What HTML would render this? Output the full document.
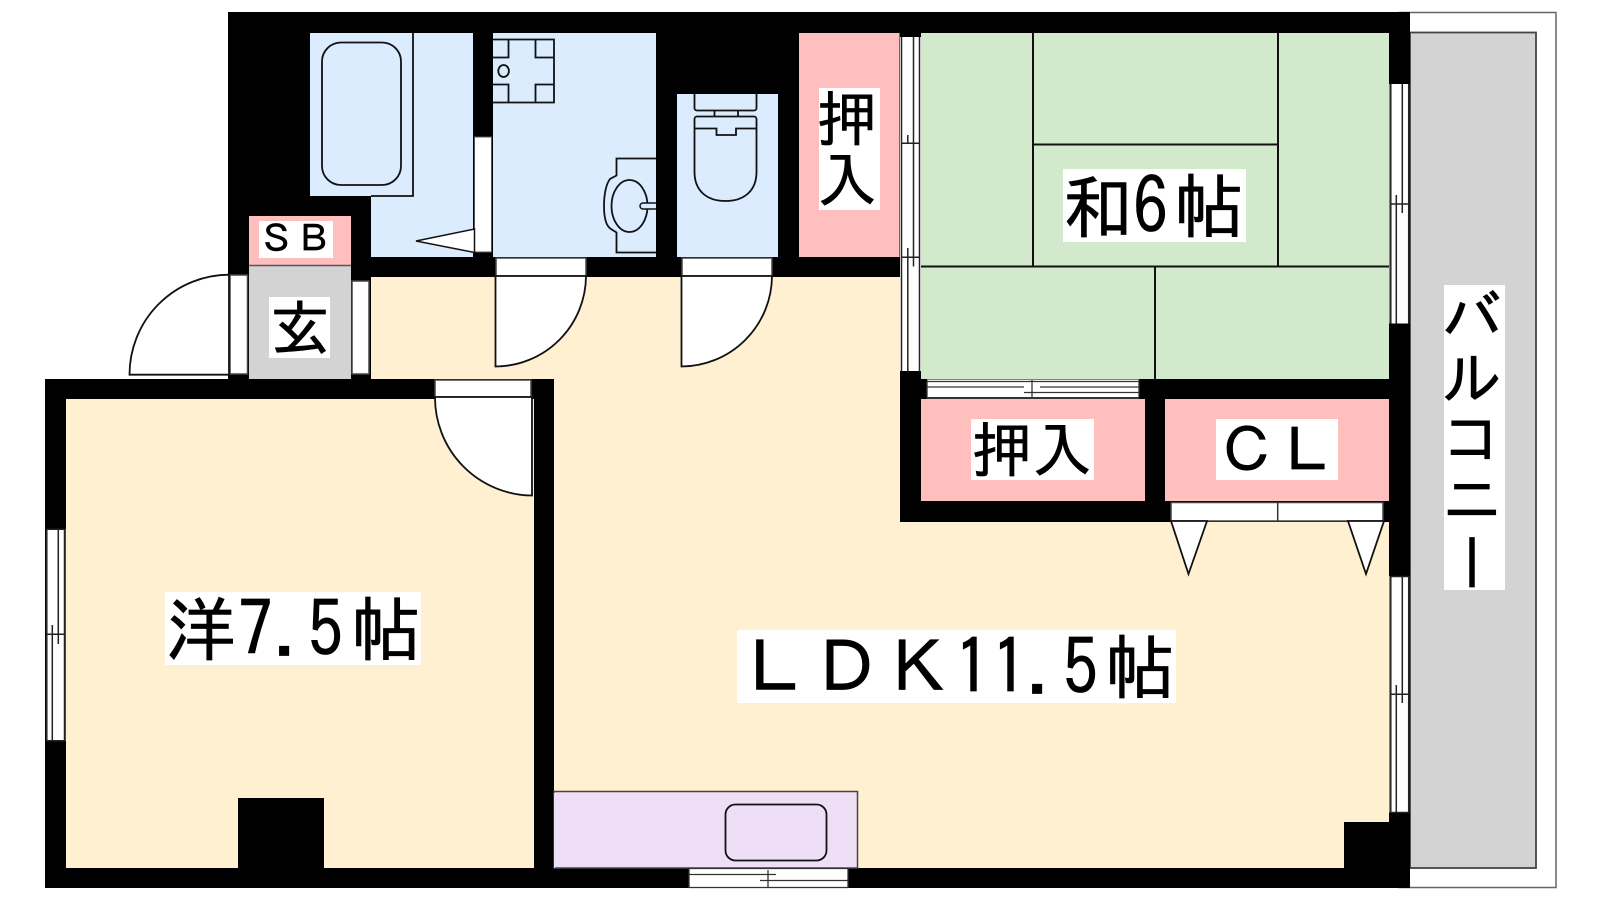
<!DOCTYPE html>
<html><head><meta charset="utf-8"><style>
html,body{margin:0;padding:0;background:#fff}
svg{display:block}
text{font-family:"IPAGothic","Noto Sans CJK JP",sans-serif;fill:#000;stroke:#000;stroke-width:.7}
.l{fill:none;stroke:#111;stroke-width:1.8}
.g{fill:#fff;stroke:#444;stroke-width:1.5}
.t{stroke:#111;stroke-width:2;fill:none}
</style></head><body>
<svg width="1600" height="900" viewBox="0 0 1600 900" xmlns="http://www.w3.org/2000/svg">
<rect width="1600" height="900" fill="#fff"/>
<!-- balcony -->
<rect x="1399" y="12.500" width="157" height="875" fill="#fff" stroke="#666" stroke-width="1.500"/>
<rect x="1410" y="32.500" width="126" height="835.500" fill="#d3d3d3" stroke="#444" stroke-width="1.800"/>
<!-- black walls -->
<rect x="228" y="12" width="1182" height="265" fill="#000"/>
<rect x="228" y="277" width="143" height="102" fill="#000"/>
<rect x="45" y="379" width="509" height="509" fill="#000"/>
<rect x="900" y="277" width="510" height="245" fill="#000"/>
<rect x="1389" y="522" width="21" height="366" fill="#000"/>
<rect x="554" y="868" width="856" height="20" fill="#000"/>
<rect x="1344" y="822" width="66" height="66" fill="#000"/>
<!-- LDK -->
<path d="M371 277H900V522H1389V822H1344V868H554V379H371Z" fill="#fef0d0"/>
<!-- western room -->
<rect x="66" y="399" width="468" height="469" fill="#fef0d0"/>
<rect x="238" y="798" width="86" height="70" fill="#000"/>
<!-- bath -->
<path d="M310 33H473V257H371V196H310Z" fill="#dbecff"/>
<path class="l" d="M413 33V196H371"/>
<rect x="322" y="42.500" width="79" height="142.500" rx="19" class="l"/>
<!-- wash -->
<rect x="493" y="33" width="163" height="224" fill="#dbecff"/>
<path class="l" d="M493 39.500H554V102.500H493M508.500 39.500V57.500H493M535.500 39.500V57.500H554M508.500 102.500V84.500H493M535.500 102.500V84.500H554"/>
<ellipse cx="503.600" cy="71" rx="5.300" ry="6" class="l"/>
<path class="l" d="M656 158.500H616.500V175.500L610 179C606 184 604 195 604 206C604 217 606 226 611 229L616.500 232.500V252.500H656"/>
<ellipse cx="629.500" cy="206" rx="18" ry="26" class="l"/>
<path d="M656 203H643a2.500 2.500 0 0 0 0 6H656" fill="#dbecff" stroke="#111" stroke-width="1.500"/>
<!-- bath sliding door -->
<rect x="474.500" y="137" width="17" height="115" fill="#fff" stroke="#555" stroke-width="1"/>
<path d="M416 241L474.500 229V252.500Z" fill="#fff" stroke="#111" stroke-width="1.500"/>
<!-- toilet -->
<rect x="677" y="94" width="101" height="163" fill="#dbecff"/>
<path class="l" d="M694.500 94V108a2.500 2.500 0 0 0 2.500 2.500H754a2.500 2.500 0 0 0 2.500-2.500V94"/>
<path class="l" d="M714.500 110.500V116.500M738 110.500V116.500"/>
<path class="l" d="M694.500 119a2.500 2.500 0 0 1 2.500-2.500H754a2.500 2.500 0 0 1 2.500 2.500V172C756.500 190 745 201 725.500 201C706 201 694.500 190 694.500 172Z"/>
<path class="l" d="M694.500 128.500H716.500V135H736V128.500H756.500"/>
<!-- closet vertical -->
<rect x="799" y="33" width="100.500" height="224" fill="#ffbfbf"/>
<!-- wa room -->
<rect x="921" y="33" width="468" height="346" fill="#d3e9cc"/>
<path class="t" d="M1033 33V266M1278 33V266M1033 144.500H1278M921 266.500H1389M1155 266.500V379"/>
<!-- wa room left window -->
<rect x="900" y="37" width="21" height="334" fill="#fff"/>
<path d="M901.500 37V371M919.500 37V371M913.500 37V266.500M907.800 135V143M907.800 248V371M901 143.300H920M901 257.300H920" stroke="#222" stroke-width="1.500" fill="none"/>
<!-- wa room right window -->
<rect x="1389.500" y="84" width="20" height="239.500" fill="#fff"/>
<path d="M1390.800 84V323.500M1408.700 84V323.500M1402.300 84V213M1396.300 195V323.500M1390.500 204H1409" stroke="#222" stroke-width="1.500" fill="none"/>
<!-- LDK right window -->
<rect x="1389.500" y="576" width="20" height="236.500" fill="#fff"/>
<path d="M1390.800 576V812.500M1408.700 576V812.500M1402.300 576V703M1396.300 685V812.500M1390.500 694.300H1409M1390 576.500H1409M1390 812.500H1409" stroke="#222" stroke-width="1.500" fill="none"/>
<!-- west window -->
<rect x="46" y="529" width="19.500" height="212" fill="#fff"/>
<path d="M46.800 529V741M64.500 529V741M58.300 529V644M52.300 625V741M46 634.300H65M46 529.300H65M46 740.700H65" stroke="#222" stroke-width="1.500" fill="none"/>
<!-- pink closets -->
<rect x="921" y="399" width="224" height="102" fill="#ffbfbf"/>
<rect x="1165" y="399" width="224" height="102" fill="#ffbfbf"/>
<!-- oshiire slider -->
<rect x="927" y="379.500" width="212" height="19" fill="#fff"/>
<path d="M927 381.500H1139M927 387H1024M1040 387H1139M1024 392.500H1139M927 397.700H1139M1032 380V398M1024 392.500H1040M927 380V398M1139 380V398" stroke="#333" stroke-width="1.300" fill="none"/>
<!-- CL doors -->
<rect x="1171" y="502.500" width="212" height="18.500" class="g"/>
<path d="M1277.700 502V521" stroke="#333" stroke-width="1.500"/>
<path d="M1171 521H1207L1188.500 574Z" fill="#fff" stroke="#111" stroke-width="1.800"/>
<path d="M1348 521H1384L1366 574Z" fill="#fff" stroke="#111" stroke-width="1.800"/>
<!-- SB / genkan -->
<rect x="249" y="216" width="102" height="49" fill="#ffbfbf"/>
<rect x="249" y="265" width="102" height="114" fill="#d3d3d3"/>
<path d="M249 265.500H351" stroke="#555" stroke-width="1.400"/>
<rect x="259" y="221" width="74" height="37" fill="#fff"/>
<rect x="269" y="297" width="61" height="61" fill="#fff"/>
<rect x="230" y="275" width="17.500" height="99" class="g"/>
<rect x="352" y="281" width="17" height="93" class="g"/>
<!-- doors -->
<path d="M229 274.700A100 100 0 0 0 129.500 374.700H229Z" fill="#fff" stroke="#111" stroke-width="1.800"/>
<rect x="496" y="258" width="90" height="18" class="g"/>
<path d="M495.500 276V366.500A91 91 0 0 0 586 276Z" fill="#fff" stroke="#111" stroke-width="1.800"/>
<rect x="682" y="258" width="90" height="18" class="g"/>
<path d="M681.500 276V366.500A91 91 0 0 0 772 276Z" fill="#fff" stroke="#111" stroke-width="1.800"/>
<rect x="435" y="380" width="96" height="17" class="g"/>
<path d="M435 397A98 98 0 0 0 532 495.500V397Z" fill="#fff" stroke="#111" stroke-width="1.800"/>
<!-- kitchen -->
<rect x="554" y="791.500" width="303.500" height="76.500" fill="#eedff6" stroke="#444" stroke-width="1.500"/>
<rect x="554" y="793" width="1" height="75" fill="#eedff6"/>
<rect x="725.500" y="804.500" width="101" height="56" rx="10" class="l"/>
<rect x="689" y="868" width="159" height="20" fill="#fff"/>
<path d="M689 868.500H848M689 874.500H776M760 880.500H848M768 870V888M689 868V888M848 868V888M689 887.500H848" stroke="#333" stroke-width="1.300" fill="none"/>
<!-- labels -->
<rect x="1063" y="169" width="183" height="73" fill="#fff"/>
<text x="1063" y="232" font-size="70">和</text>
<text transform="translate(1133 234) scale(1 1.100)" font-size="70">6</text>
<text x="1174" y="232" font-size="70">帖</text>
<rect x="819" y="88" width="61" height="122" fill="#fff"/>
<text x="817" y="141" font-size="60">押</text>
<text x="817" y="202" font-size="60">入</text>
<rect x="971" y="419" width="123" height="61" fill="#fff"/>
<text x="972 1032" y="472" font-size="60">押入</text>
<rect x="1216" y="419" width="122" height="61" fill="#fff"/>
<text x="1217 1277" y="472" font-size="60">ＣＬ</text>
<text x="258 295" y="252" font-size="37">ＳＢ</text>
<text x="270" y="350" font-size="60">玄</text>
<rect x="165" y="592" width="256" height="73" fill="#fff"/>
<text x="166" y="655" font-size="70">洋</text>
<text transform="translate(238 657) scale(1 1.100)" font-size="70">7</text>
<text x="273" y="655" font-size="70">.</text>
<text transform="translate(308 657) scale(1 1.100)" font-size="70">5</text>
<text x="351" y="655" font-size="70">帖</text>
<rect x="737" y="630" width="439" height="73" fill="#fff"/>
<text x="739 811 883" y="693" font-size="71">ＬＤＫ</text>
<text transform="translate(955 695) scale(1 1.100)" font-size="70">1</text>
<text transform="translate(992 695) scale(1 1.100)" font-size="70">1</text>
<text x="1026" y="693" font-size="70">.</text>
<text transform="translate(1063 695) scale(1 1.100)" font-size="70">5</text>
<text x="1105" y="693" font-size="70">帖</text>
<rect x="1444" y="285" width="61" height="305" fill="#fff"/>
<text x="1442" y="339" font-size="60">バ</text>
<text x="1442" y="400" font-size="60">ル</text>
<text x="1442" y="460" font-size="60">コ</text>
<text x="1442" y="521" font-size="60">ニ</text>
<text x="1472" y="532" font-size="60" style="writing-mode:vertical-rl">ー</text>
</svg>
</body></html>
